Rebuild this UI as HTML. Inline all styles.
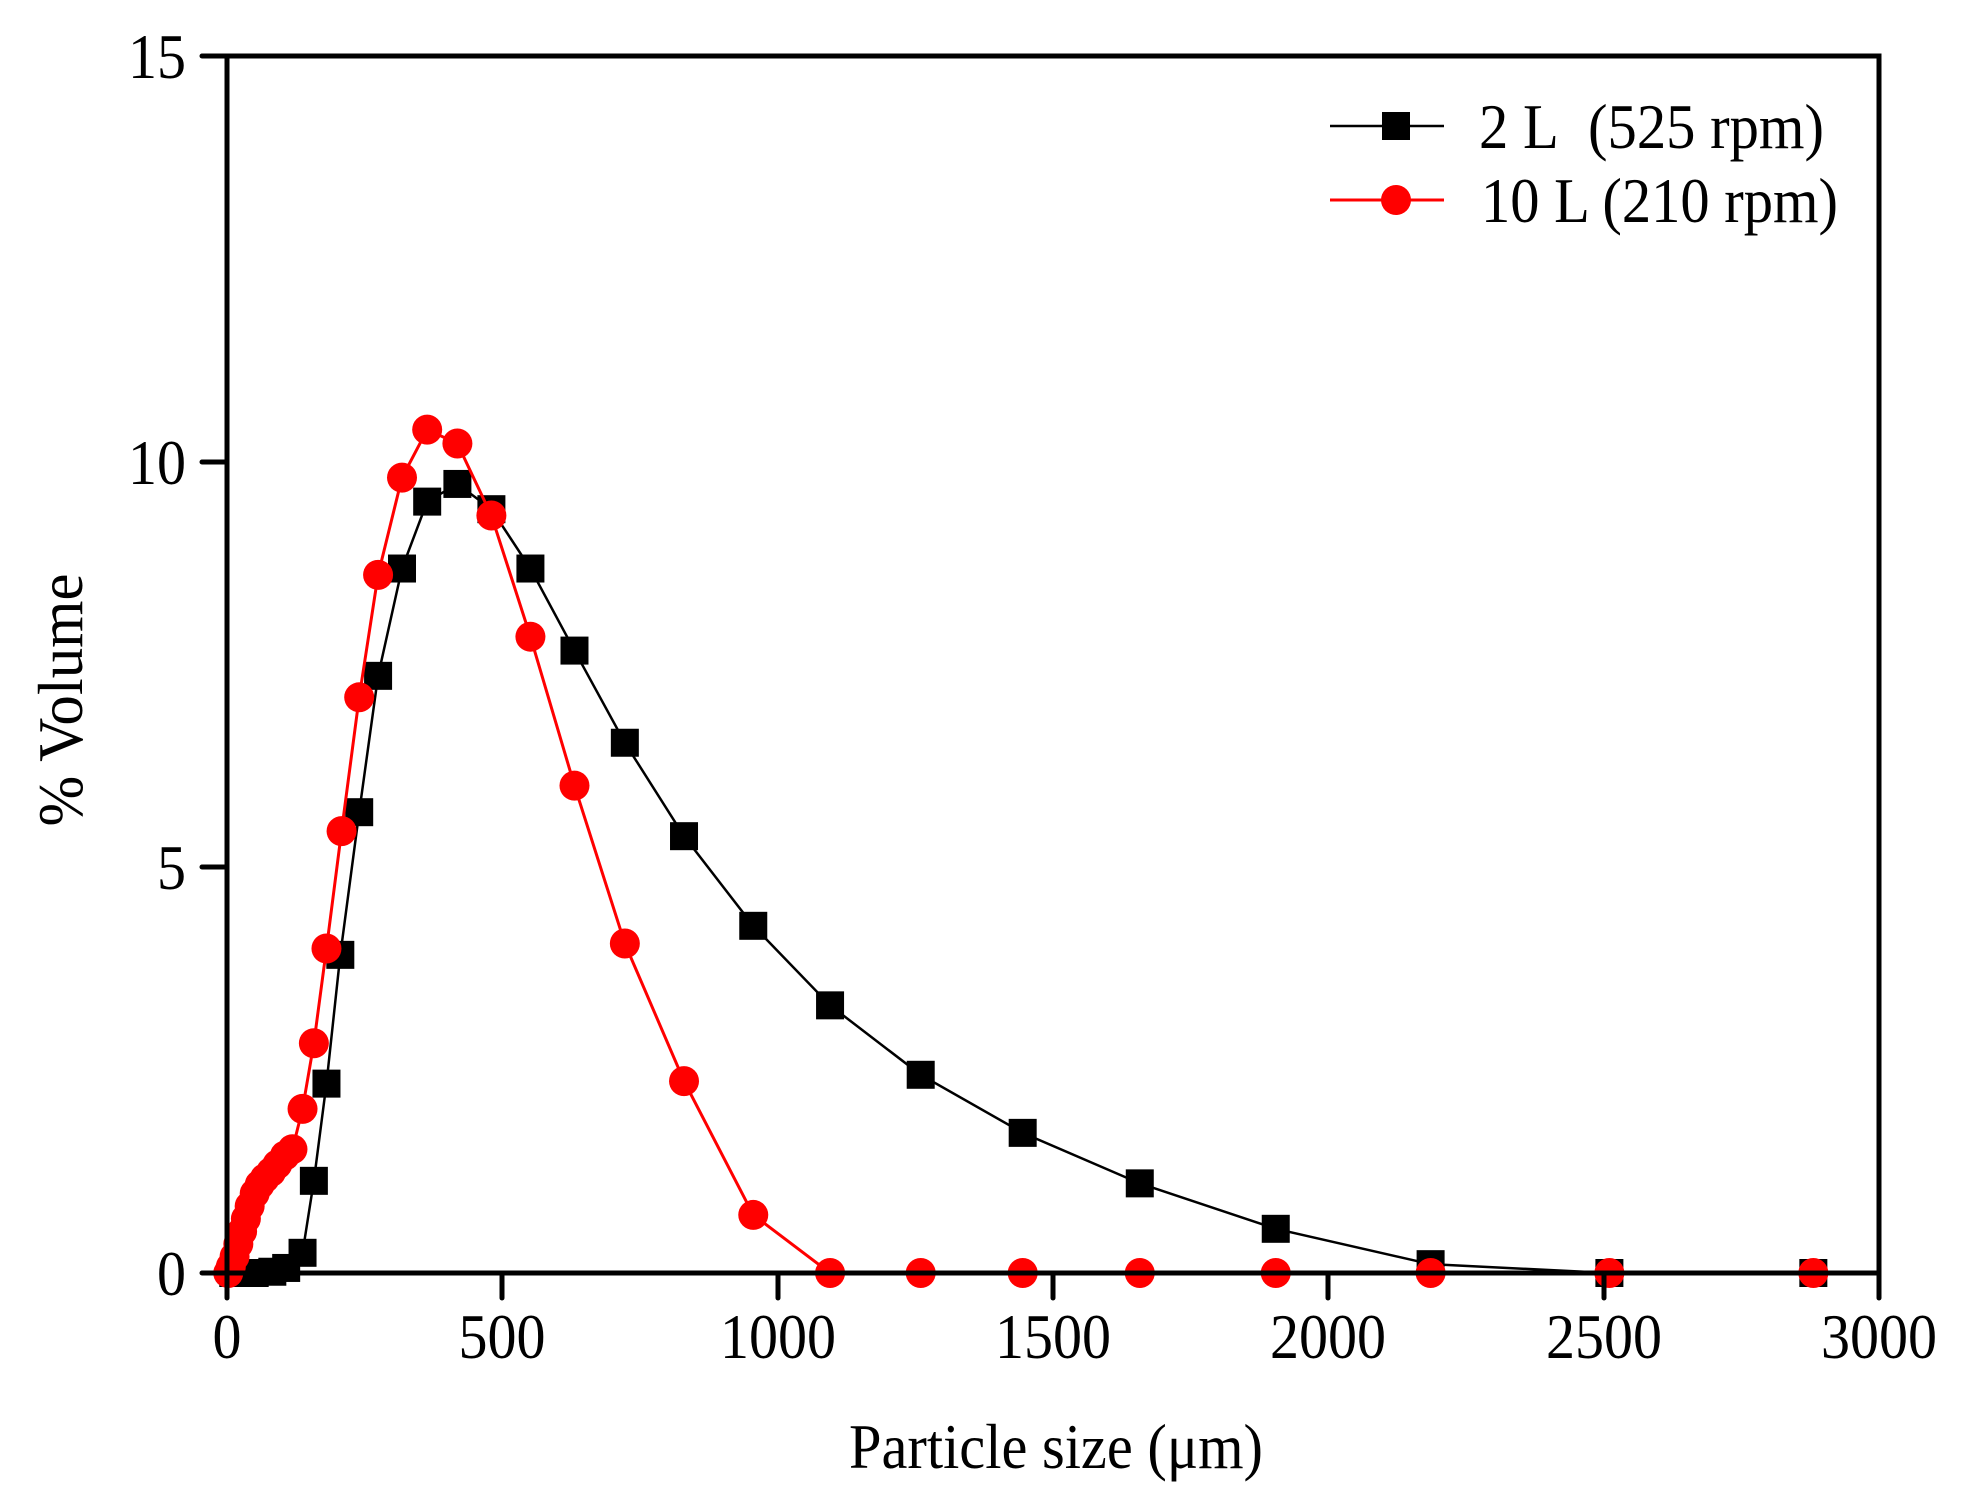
<!DOCTYPE html>
<html><head><meta charset="utf-8"><style>
html,body{margin:0;padding:0;background:#fff;}
svg{display:block;}
text{font-family:"Liberation Serif",serif;fill:#000;}
</style></head><body>
<svg id="s" width="1977" height="1500" viewBox="0 0 1977 1500" xmlns="http://www.w3.org/2000/svg">
<g id="plot"></g>
<rect x="227" y="56" width="1652" height="1217" fill="none" stroke="#000" stroke-width="5"/>
<g stroke="#000" stroke-width="5" stroke-linecap="round">
<line x1="227" y1="1273" x2="227" y2="1298"/>
<line x1="502" y1="1273" x2="502" y2="1298"/>
<line x1="778" y1="1273" x2="778" y2="1298"/>
<line x1="1053" y1="1273" x2="1053" y2="1298"/>
<line x1="1328" y1="1273" x2="1328" y2="1298"/>
<line x1="1604" y1="1273" x2="1604" y2="1298"/>
<line x1="1879" y1="1273" x2="1879" y2="1298"/>
<line x1="202" y1="1273" x2="227" y2="1273"/>
<line x1="202" y1="867" x2="227" y2="867"/>
<line x1="202" y1="462" x2="227" y2="462"/>
<line x1="202" y1="56" x2="227" y2="56"/>
</g>
<g font-size="64" text-anchor="middle" lengthAdjust="spacingAndGlyphs">
<text x="227" y="1358" textLength="29" lengthAdjust="spacingAndGlyphs">0</text>
<text x="502" y="1358" textLength="87" lengthAdjust="spacingAndGlyphs">500</text>
<text x="778" y="1358" textLength="116" lengthAdjust="spacingAndGlyphs">1000</text>
<text x="1053" y="1358" textLength="116" lengthAdjust="spacingAndGlyphs">1500</text>
<text x="1328" y="1358" textLength="116" lengthAdjust="spacingAndGlyphs">2000</text>
<text x="1604" y="1358" textLength="116" lengthAdjust="spacingAndGlyphs">2500</text>
<text x="1879" y="1358" textLength="116" lengthAdjust="spacingAndGlyphs">3000</text>
</g>
<g font-size="64" text-anchor="end">
<text x="186" y="1295" textLength="29" lengthAdjust="spacingAndGlyphs">0</text>
<text x="186" y="889" textLength="29" lengthAdjust="spacingAndGlyphs">5</text>
<text x="186" y="484" textLength="58" lengthAdjust="spacingAndGlyphs">10</text>
<text x="186" y="78" textLength="58" lengthAdjust="spacingAndGlyphs">15</text>
</g>
<text x="1056" y="1468" font-size="64" text-anchor="middle" textLength="414" lengthAdjust="spacingAndGlyphs">Particle size (μm)</text>
<text transform="translate(82,700) rotate(-90)" font-size="64" text-anchor="middle" textLength="253" lengthAdjust="spacingAndGlyphs">% Volume</text>
<line x1="1330" y1="126" x2="1444" y2="126" stroke="#000" stroke-width="2.5"/>
<rect x="1382" y="112" width="28" height="28" fill="#000"/>
<line x1="1330" y1="200" x2="1444" y2="200" stroke="#f00" stroke-width="3"/>
<circle cx="1396" cy="200" r="15" fill="#f00"/>
<text x="1479" y="148" font-size="64" textLength="345" lengthAdjust="spacingAndGlyphs">2 L&#160;&#160;(525 rpm)</text>
<text x="1481" y="222" font-size="64" textLength="357" lengthAdjust="spacingAndGlyphs">10 L (210 rpm)</text>
</svg>
<script>
var B=[[183,1008],[200,1008],[214,1007],[225,1004],[238,992],[247,935],[257,858],[268,756],[283,643],[298,535],[317,450],[337,397],[361,383],[388,403],[419,450],[454,515],[494,588],[541,662],[596,733],[657,796],[729,851],[810,897],[903,937],[1011,973],[1134,1001],[1276,1008],[1438,1008]];
var R=[[179,1008],[181,1003],[184,995],[187,985],[190,975],[193,965],[196,955],[200,945],[204,938],[208,933],[213,928],[218,922],[224,915],[230,910],[238,878],[247,826],[257,751],[269,658],[283,552],[298,455],[317,378],[337,340],[361,351],[388,408],[419,504],[454,622],[494,747],[541,856],[596,962],[657,1008],[729,1008],[810,1008],[903,1008],[1011,1008],[1134,1008],[1276,1008],[1438,1008],[1490,1008]];
function tx(p){return [227+(p[0]-178)*1.259,1273-(1008-p[1])*1.2625];}
var g=document.getElementById('plot'),h='';
var b=B.map(tx),r=R.map(tx);
h+='<polyline fill="none" stroke="#000" stroke-width="2.5" points="'+b.map(function(p){return p.join(',')}).join(' ')+' 1879,1273"/>';
b.forEach(function(p){h+='<rect x="'+(p[0]-14)+'" y="'+(p[1]-14)+'" width="28" height="28" fill="#000"/>';});
h+='<polyline fill="none" stroke="#f00" stroke-width="3" points="'+r.map(function(p){return p.join(',')}).join(' ')+'"/>';
r.forEach(function(p,i){if(i<R.length-1)h+='<circle cx="'+p[0]+'" cy="'+p[1]+'" r="15" fill="#f00"/>';});
g.innerHTML=h;
</script>
</body></html>
